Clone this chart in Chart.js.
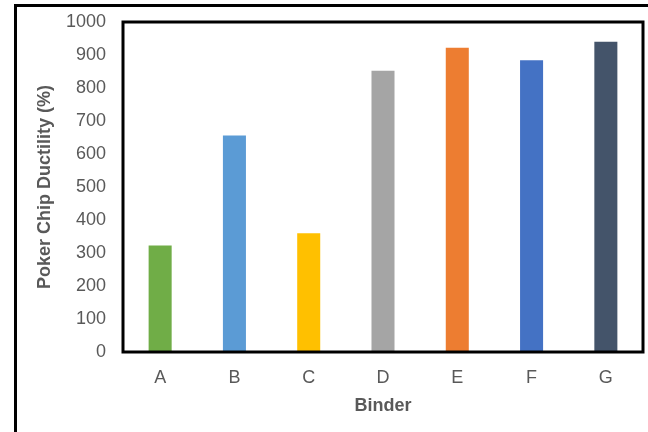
<!DOCTYPE html>
<html lang="en">
<head>
    <meta charset="UTF-8">
    <title>Poker Chip Ductility</title>
    <style>
        body {
            margin: 0;
            background: white;
        }

        #chart-container {
            width: 648px;
            height: 432px;
        }
    </style>
</head>
<body>
    <section id="chart-container">
        <canvas id="my-chart"></canvas>
    </section>

    <script src="https://cdn.jsdelivr.net/npm/chart.js"></script>
    <script>
        const binders = ['A', 'B', 'C', 'D', 'E', 'F', 'G'];
        const ductility = [323, 656, 360, 852, 922, 884, 940];
        const barColors = ['#70AD47', '#5B9BD5', '#FFC000', '#A5A5A5', '#ED7D31', '#4472C4', '#44546A'];
        const yTicks = [0, 100, 200, 300, 400, 500, 600, 700, 800, 900, 1000];

        const textGray = '#595959';
        const fontName = "'Liberation Sans', Arial, sans-serif";

        // outer frame + box around plot area
        const frames = {
            id: 'frames',
            beforeDraw(chart) {
                const ctx = chart.ctx;
                ctx.save();
                ctx.strokeStyle = 'black';
                ctx.lineWidth = 3;
                ctx.strokeRect(15.5, 5.5, 1000, 1000);
                ctx.restore();
            },
            afterDatasetsDraw(chart) {
                const { ctx, chartArea } = chart;
                ctx.save();
                ctx.strokeStyle = 'black';
                ctx.lineWidth = 3;
                ctx.strokeRect(chartArea.left, chartArea.top, chartArea.right - chartArea.left, chartArea.bottom - chartArea.top);
                ctx.restore();
            }
        };

        const ctx = document.getElementById('my-chart').getContext('2d');
        new Chart(ctx, {
            type: 'bar',
            data: {
                labels: binders,
                datasets: [{
                    data: ductility,
                    backgroundColor: barColors,
                    categoryPercentage: 1,
                    barPercentage: 0.31
                }]
            },
            options: {
                responsive: true,
                maintainAspectRatio: false,
                animation: false,
                layout: {
                    padding: { top: 22, right: 5, left: 0, bottom: 0 }
                },
                plugins: {
                    legend: { display: false },
                    tooltip: { enabled: false }
                },
                scales: {
                    x: {
                        grid: { display: false, drawTicks: false },
                        border: { display: false },
                        ticks: {
                            color: textGray,
                            padding: 15,
                            font: { family: fontName, size: 18 }
                        },
                        title: {
                            display: true,
                            text: 'Binder',
                            color: textGray,
                            padding: { top: 0, bottom: 15 },
                            font: { family: fontName, size: 18, weight: 'bold' }
                        },
                        afterFit(scale) { scale.height = 80; }
                    },
                    y: {
                        min: 0,
                        max: 1000,
                        grid: { display: false, drawTicks: false },
                        border: { display: false },
                        afterBuildTicks(scale) {
                            scale.ticks = yTicks.map(v => ({ value: v }));
                        },
                        ticks: {
                            color: textGray,
                            padding: 17,
                            font: { family: fontName, size: 18 },
                            callback: v => String(v)
                        },
                        title: {
                            display: true,
                            text: 'Poker Chip Ductility (%)',
                            color: textGray,
                            padding: { top: 34, bottom: 0 },
                            font: { family: fontName, size: 18, weight: 'bold' }
                        },
                        afterFit(scale) {
                            scale.width = 123;
                            scale.paddingTop = 0;
                            scale.paddingBottom = 0;
                        }
                    }
                }
            },
            plugins: [frames]
        });
    </script>
</body>
</html>
